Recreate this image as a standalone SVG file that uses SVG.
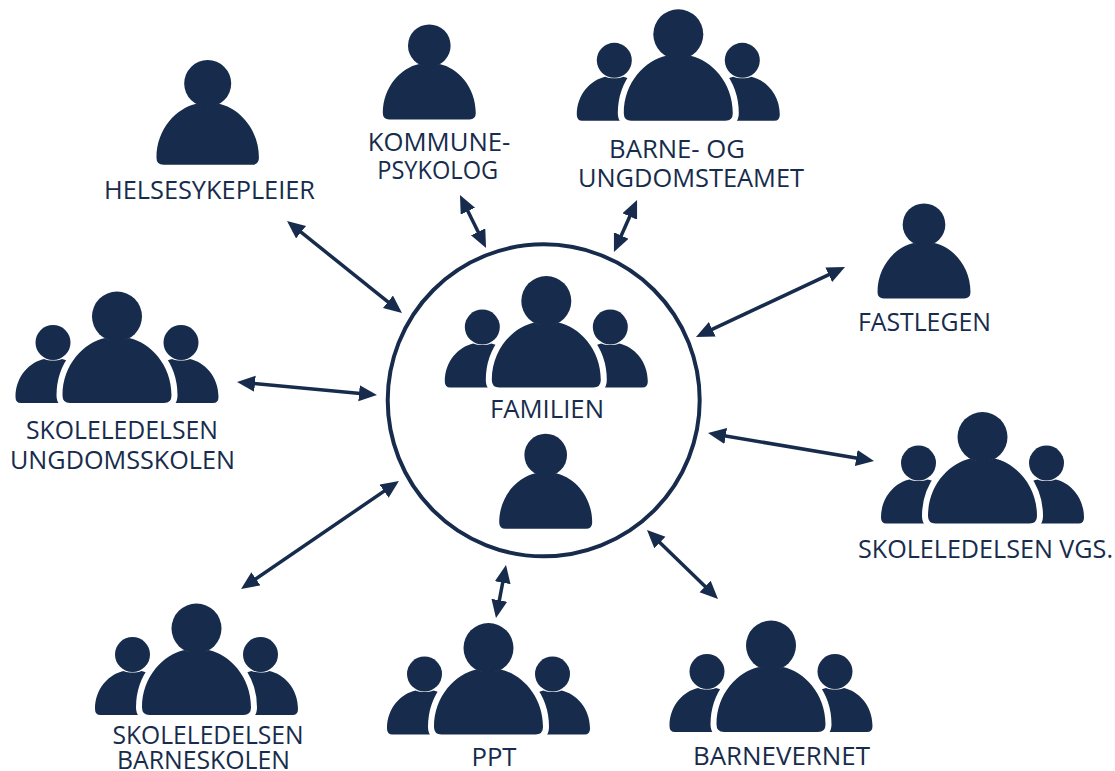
<svg xmlns="http://www.w3.org/2000/svg" width="1115" height="771" viewBox="0 0 1115 771">
<style>
.t{font-family:"Open Sans","Noto Sans",sans-serif;font-size:25.7px;fill:#172c4c;text-anchor:middle}
.c{stroke:#172c4c;stroke-width:3.5;fill:none;marker-start:url(#a);marker-end:url(#a)}
.f{fill:#172c4c}
.w{fill:#172c4c;stroke:#fff;stroke-width:12;paint-order:stroke}
</style>
<defs>
<marker id="a" markerUnits="userSpaceOnUse" markerWidth="20" markerHeight="18" refX="12" refY="8" orient="auto-start-reverse"><path d="M0,0L18,8L0,16Z" fill="#172c4c"/></marker>
<path id="b" d="M-54.5,79C-54.5,48-33,26-12,21.5C-5,25 5,25 12,21.5C33,26 54.5,48 54.5,79Q54.5,86.500 47,86.500H-47Q-54.5,86.500-54.5,79Z"/>
<path id="sb" d="M-37.5,38C-37.5,17-23,3-9,0C-4,2 4,2 9,0C23,3 37.5,17 37.5,38Q37.5,44 32,44H-32Q-37.5,44-37.5,38Z"/>
<g id="one"><circle r="25" class="f"/><use href="#b" class="f"/></g>
<g id="three">
<use href="#sb" x="-64" y="42.5" class="f"/><use href="#sb" x="64" y="42.5" class="f"/>
<use href="#b" class="w"/>
<circle r="25" class="f"/>
<circle cx="-64" cy="26" r="17.5" class="f"/><circle cx="64" cy="26" r="17.5" class="f"/>
</g>
</defs>
<g id="connectors">
<line class="c" x1="291.700" y1="224.700" x2="397.300" y2="309.300"/>
<line class="c" x1="462.600" y1="200.400" x2="483.400" y2="242.600"/>
<line class="c" x1="634.600" y1="205.500" x2="616.400" y2="246.500"/>
<line class="c" x1="839.600" y1="269.600" x2="701.400" y2="334.400"/>
<line class="c" x1="868.100" y1="460" x2="713.900" y2="434"/>
<line class="c" x1="651.300" y1="534.200" x2="713.700" y2="594.800"/>
<line class="c" x1="504.900" y1="570.900" x2="497.100" y2="612.100"/>
<line class="c" x1="394" y1="484.400" x2="246" y2="585.600"/>
<line class="c" x1="243" y1="382.600" x2="371" y2="394.400"/>
</g>
<g id="familien">
<circle cx="543.700" cy="400.300" r="156" fill="none" stroke="#172c4c" stroke-width="4"/>
<use href="#three" transform="translate(546.300,301)"/>
<use href="#one" transform="translate(545.700,455) scale(.853)"/>
<text class="t" x="547" y="417.500">FAMILIEN</text>
</g>
<g id="helsesykepleier"><use href="#one" transform="translate(207.700,83.500) scale(.94)"/><text class="t" x="209.500" y="199" textLength="211" lengthAdjust="spacingAndGlyphs">HELSESYKEPLEIER</text></g>
<g id="kommunepsykolog"><use href="#one" transform="translate(429.300,45.700) scale(.853)"/><text class="t" x="439" y="151">KOMMUNE-</text><text class="t" x="437.700" y="178.500" textLength="121" lengthAdjust="spacingAndGlyphs">PSYKOLOG</text></g>
<g id="barne-og-ungdomsteamet"><use href="#three" transform="translate(678.300,34.300)"/><text class="t" x="677" y="158">BARNE- OG</text><text class="t" x="691" y="187" textLength="226" lengthAdjust="spacingAndGlyphs">UNGDOMSTEAMET</text></g>
<g id="fastlegen"><use href="#one" transform="translate(924,224.700) scale(.853)"/><text class="t" x="924.400" y="331" textLength="133" lengthAdjust="spacingAndGlyphs">FASTLEGEN</text></g>
<g id="skoleledelsen-vgs"><use href="#three" transform="translate(982.500,437)"/><text class="t" x="985.500" y="558" textLength="255" lengthAdjust="spacingAndGlyphs">SKOLELEDELSEN VGS.</text></g>
<g id="barnevernet"><use href="#three" transform="translate(771,645.500)"/><text class="t" x="781.500" y="765" textLength="177" lengthAdjust="spacingAndGlyphs">BARNEVERNET</text></g>
<g id="ppt"><use href="#three" transform="translate(488.500,648)"/><text class="t" x="494" y="766">PPT</text></g>
<g id="skoleledelsen-barneskolen"><use href="#three" transform="translate(196.500,628.500)"/><text class="t" x="208" y="744.300" textLength="191" lengthAdjust="spacingAndGlyphs">SKOLELEDELSEN</text><text class="t" x="203.500" y="769" textLength="173" lengthAdjust="spacingAndGlyphs">BARNESKOLEN</text></g>
<g id="skoleledelsen-ungdomsskolen"><use href="#three" transform="translate(117,316.500)"/><text class="t" x="122" y="438.500" textLength="192" lengthAdjust="spacingAndGlyphs">SKOLELEDELSEN</text><text class="t" x="122.500" y="469" textLength="225" lengthAdjust="spacingAndGlyphs">UNGDOMSSKOLEN</text></g>
</svg>
